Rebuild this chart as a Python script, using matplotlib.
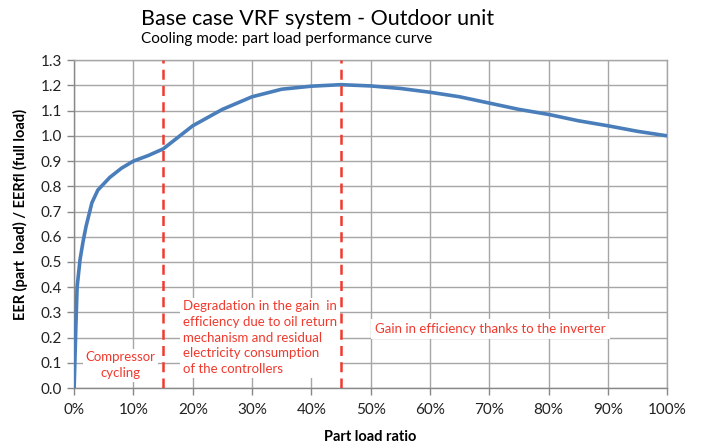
import matplotlib.pyplot as plt
from matplotlib.ticker import MultipleLocator, FuncFormatter

# part load ratio (%) and EER ratio
load = [0, 0.3, 0.5, 1, 1.5, 2, 3, 4, 6, 8, 10, 12.5, 15, 20, 25, 30, 35, 40, 45,
        50, 55, 60, 65, 70, 75, 80, 85, 90, 95, 100]
eer = [0, 0.25, 0.40, 0.51, 0.58, 0.64, 0.735, 0.785, 0.835, 0.872, 0.90, 0.922, 0.948,
       1.04, 1.105, 1.155, 1.185, 1.197, 1.203, 1.198, 1.188, 1.173, 1.155, 1.13,
       1.105, 1.085, 1.06, 1.04, 1.018, 1.0]
bounds = [15, 45]

plt.rcParams['font.family'] = ['Lato', 'DejaVu Sans']

fig = plt.figure(figsize=(7.06, 4.46), dpi=100)
ax = fig.add_axes([0.105, 0.13, 0.84, 0.735])

grid_c = '#a6a6a6'
ax.plot(load, eer, color='#4a7ebb', lw=2.6, zorder=3, solid_capstyle='butt')
for b in bounds:
    ax.plot([b, b], [0, 1.3], color='#f03a2e', lw=1.8, ls=(0, (4, 2.5)), zorder=4)

ax.set_xlim(0, 100)
ax.set_ylim(0, 1.3)
ax.xaxis.set_major_locator(MultipleLocator(10))
ax.yaxis.set_major_locator(MultipleLocator(0.1))
ax.xaxis.set_major_formatter(FuncFormatter(lambda v, p: f'{v:.0f}%'))
ax.yaxis.set_major_formatter(FuncFormatter(lambda v, p: f'{v:.1f}'))
ax.grid(True, color=grid_c, lw=1)
ax.set_axisbelow(True)
for s in ax.spines.values():
    s.set_color(grid_c)
    s.set_linewidth(1)
ax.spines['left'].set_color('#888888')
ax.spines['bottom'].set_color('#888888')
ax.tick_params(colors='#888888', labelcolor='#222222', labelsize=11, length=5, width=1)
ax.tick_params(axis='x', pad=6)

ax.set_xlabel('Part load ratio', fontsize=10.5, fontweight='bold', labelpad=9)
ax.set_ylabel('EER (part  load) / EERfl (full load)', fontsize=10.5, fontweight='bold')
ax.yaxis.set_label_coords(-0.077, 0.53)

fig.text(0.2, 0.958, 'Base case VRF system - Outdoor unit', fontsize=15.5, va='center', ha='left')
fig.text(0.2, 0.913, 'Cooling mode: part load performance curve', fontsize=11, va='center', ha='left')

red = '#f03a2e'
box = dict(facecolor='white', edgecolor='none', pad=2)
ax.text(7.8, 0.09, 'Compressor\ncycling', color=red, fontsize=9.5, ha='center', va='center',
        linespacing=1.4, bbox=box, zorder=5)
ax.text(18.3, 0.20, 'Degradation in the gain  in\nefficiency due to oil return\nmechanism and residual\n'
        'electricity consumption\nof the controllers', color=red, fontsize=9.5, ha='left',
        va='center', linespacing=1.36, bbox=box, zorder=5)
ax.text(50.7, 0.235, 'Gain in efficiency thanks to the inverter', color=red, fontsize=9.5,
        ha='left', va='center', bbox=dict(facecolor='white', edgecolor='none', pad=3), zorder=5)

fig.savefig('out.png', dpi=100)
